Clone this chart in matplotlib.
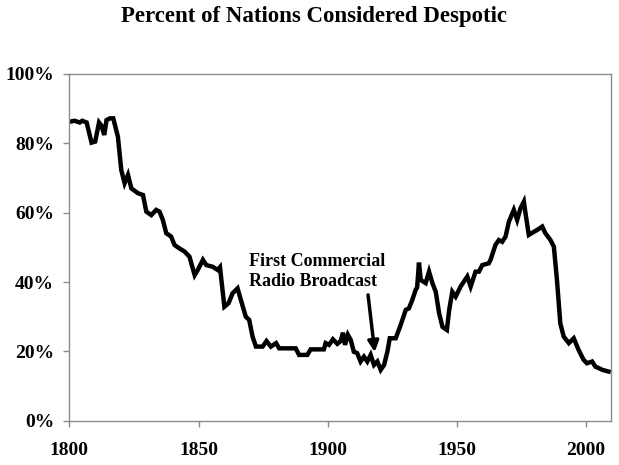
import matplotlib.pyplot as plt
from matplotlib.ticker import FuncFormatter

# values
years = [1800, 1802, 1804, 1805, 1806.7, 1808.6, 1810, 1811.5, 1812.5, 1813.5,
         1814.4, 1815.7, 1817, 1818.8, 1820.1, 1821.4, 1822.7, 1824, 1826.6, 1828.5,
         1829.8, 1831.7, 1833.6, 1834.9, 1836.2, 1837.5, 1839.4, 1840.7, 1842.6, 1844.6,
         1846.5, 1848.5, 1849.7, 1851.7, 1853, 1855.5, 1857.4, 1858.3, 1860, 1861.6,
         1863.2, 1865.1, 1866.4, 1868.3, 1869.6, 1870.9, 1872.2, 1874.8, 1876.3, 1878,
         1880, 1881.2, 1887.6, 1888.9, 1892.1, 1893.4, 1898.5, 1899.2, 1900.5, 1902,
         1903.7, 1905, 1905.9, 1906.7, 1907.8, 1908.9, 1910.1, 1911.4, 1912.7, 1914,
         1915.3, 1916.6, 1917.9, 1919.2, 1920.5, 1921.8, 1923.1, 1924, 1926.3, 1928.2,
         1930.2, 1931.4, 1932.7, 1934, 1934.6, 1935.3, 1936, 1937.9, 1939.2, 1940.5,
         1941.8, 1943.1, 1944.4, 1946.1, 1947, 1948.2, 1949.5, 1951.4, 1954, 1955.3,
         1957.2, 1958.5, 1959.8, 1962.3, 1963, 1964.9, 1966.2, 1967.5, 1968.8, 1970.1,
         1972, 1973.3, 1974.6, 1975.9, 1976.5, 1977.8, 1979.8, 1981, 1983, 1984.2,
         1986.2, 1987.5, 1988.7, 1990, 1991.3, 1993.3, 1995.2, 1997.1, 1999, 2000.3,
         2002.3, 2003.6, 2004.9, 2006.2, 2008.7]
despotic = [86.2, 86.5, 86.0, 86.5, 86.0, 80.2, 80.5, 86.0, 85.0, 82.4,
            86.7, 87.2, 87.2, 81.9, 72.3, 68.5, 70.9, 67.0, 65.6, 65.1,
            60.3, 59.3, 60.8, 60.3, 57.9, 54.1, 53.1, 50.7, 49.7, 48.8,
            47.3, 42.0, 43.5, 46.4, 44.9, 44.4, 43.5, 44.3, 32.9, 33.9,
            36.8, 38.2, 34.8, 30.0, 29.1, 24.3, 21.4, 21.4, 23.0, 21.4,
            22.4, 20.9, 20.9, 19.0, 19.0, 20.6, 20.6, 22.4, 21.9, 23.5,
            22.2, 23.0, 25.4, 21.9, 24.8, 23.3, 19.9, 19.5, 17.1, 18.5,
            17.1, 19.0, 16.1, 17.1, 14.7, 16.1, 20.0, 23.8, 23.8, 27.6,
            32.0, 32.4, 34.8, 37.7, 38.5, 45.6, 40.6, 39.7, 43.0, 39.7,
            37.2, 31.0, 27.1, 26.2, 32.0, 37.2, 35.8, 38.7, 41.6, 38.7,
            43.0, 43.0, 44.9, 45.4, 46.4, 50.7, 52.1, 51.6, 53.1, 57.4,
            60.8, 57.9, 61.3, 63.2, 60.0, 53.6, 54.5, 55.0, 56.0, 54.1,
            52.1, 50.2, 40.6, 28.1, 24.3, 22.4, 23.8, 20.4, 17.6, 16.6,
            17.1, 15.6, 15.2, 14.7, 14.2]

x_ticks = [1800, 1850, 1900, 1950, 2000]
y_ticks = [0, 20, 40, 60, 80, 100]

plt.rcParams['font.family'] = ['Liberation Serif', 'DejaVu Serif']
plt.rcParams['font.weight'] = 'bold'

fig = plt.figure(figsize=(6.19, 4.65), dpi=100)
ax = fig.add_axes([0.112, 0.095, 0.8746, 0.746])

ax.plot(years, despotic, color="k", lw=3.2, solid_joinstyle="miter")

ax.set_xlim(1800, 2009.5)
ax.set_ylim(0, 100)
ax.set_xticks(x_ticks)
ax.set_yticks(y_ticks)
ax.yaxis.set_major_formatter(FuncFormatter(lambda v, p: "%d%%" % v))

for sp in ax.spines.values():
    sp.set_color("#8c8c8c")
    sp.set_linewidth(1)
ax.tick_params(axis="both", colors="#8c8c8c", length=4, width=1,
               labelsize=14, labelcolor="k")
ax.tick_params(axis="x", pad=11)
ax.tick_params(axis="y", pad=7)

fig.text(0.508, 0.965, "Percent of Nations Considered Despotic",
         ha="center", va="center", fontsize=16.5, fontweight="bold")

ax.text(1869.6, 48.5, "First Commercial\nRadio Broadcast", ha="left", va="top",
        fontsize=13, fontweight="bold", linespacing=1.25)
ax.annotate("", xy=(1918.2, 19.8), xytext=(1915.6, 36.3),
            arrowprops=dict(arrowstyle="-|>", color="k", lw=2.5,
                            mutation_scale=16, shrinkA=0, shrinkB=0))

fig.savefig("out.png", dpi=100)
